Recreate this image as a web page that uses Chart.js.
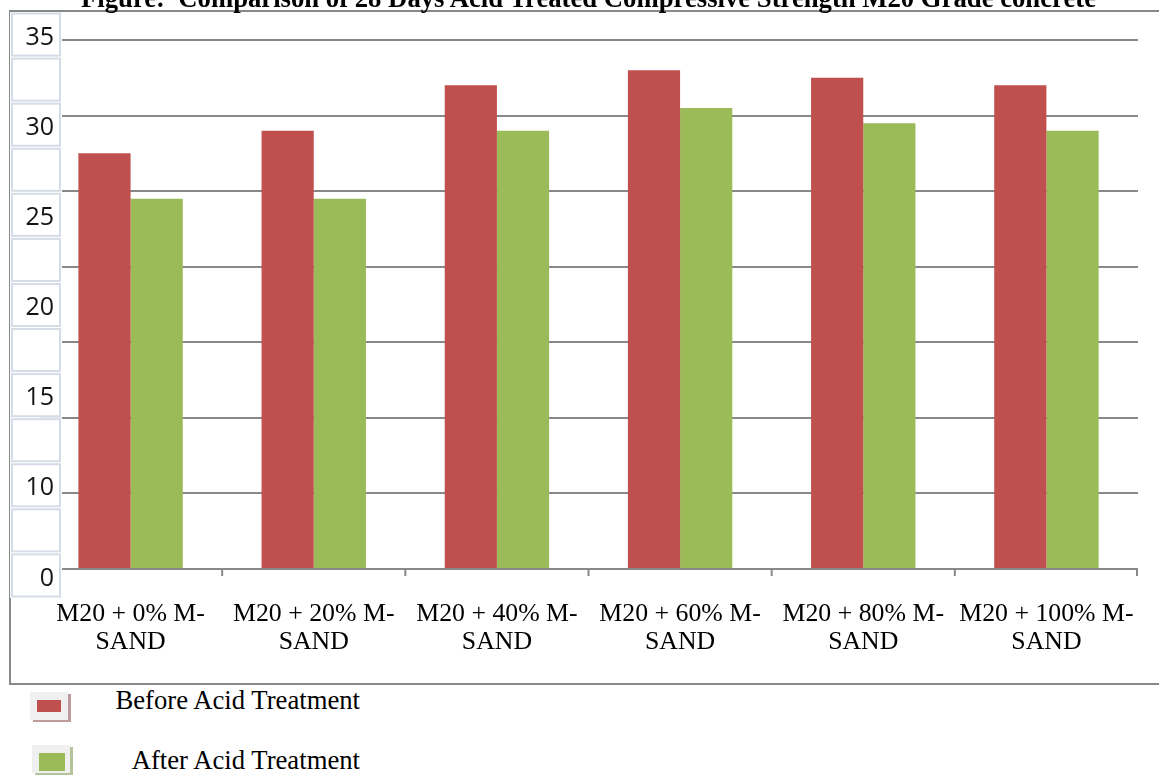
<!DOCTYPE html>
<html>
<head>
<meta charset="utf-8">
<script src="https://cdn.jsdelivr.net/npm/chart.js@4.4.1/dist/chart.umd.min.js"></script>
<style>
    body { margin: 0; width: 1159px; height: 776px; background: #fff; overflow: hidden; position: relative; }
    #frame { position: absolute; left: 9px; top: 10px; width: 1200px; height: 671px; border: 2px solid #888; }
    #wrap { position: absolute; left: 0; top: 0; width: 1159px; height: 683px; }
    #title { position: absolute; left: 9px; top: -15.5px; width: 1159px; text-align: center;
        font: bold 26.7px "Liberation Serif", "Times New Roman", serif; line-height: 27px; color: #000; white-space: nowrap; }
    .key { position: absolute; font: 26.7px "Liberation Serif", "Times New Roman", serif; line-height: 30px; color: #000; }
    .key .box { position: absolute; width: 38px; height: 28px; background: #f0f0f0; }
    .key .swatch { position: absolute; }
    .key .txt { position: absolute; white-space: nowrap; text-align: right; width: 300px; }
</style>
</head>
<body>
<div id="frame"></div>
<div id="wrap"><canvas id="myChart"></canvas></div>
<div id="title">Figure:&nbsp; Comparison of 28 Days Acid Treated Compressive Strength M20 Grade concrete</div>
<div id="legend"></div>
<script>
const categories = [
    ['M20 + 0% M-', 'SAND'],
    ['M20 + 20% M-', 'SAND'],
    ['M20 + 40% M-', 'SAND'],
    ['M20 + 60% M-', 'SAND'],
    ['M20 + 80% M-', 'SAND'],
    ['M20 + 100% M-', 'SAND'],
];

const beforeAcid = [27.5, 29, 32, 33, 32.5, 32];
const afterAcid = [24.5, 24.5, 29, 30.5, 29.5, 29];

const yTickLabels = ['35', '30', '25', '20', '15', '10', '0'];
const gridValues = [0, 5, 10, 15, 20, 25, 30, 35];

// label column: one labelled cell, then an empty one
const labelCells = yTickLabels.flatMap((t, i) => i < yTickLabels.length - 1 ? [t, ''] : [t]);

const RED = '#C0504D';
const GREEN = '#9BBB59';

const cellColumn = {
    id: 'cellColumn',
    afterLayout(chart) {
        // the label column sits over the left edge of the plot
        const s = chart.scales.labels;
        s.left = 10;
        s.right = 62;
    },
    afterDatasetsDraw(chart) {
        const ctx = chart.ctx;
        const y2 = chart.scales.labels;
        const x = chart.scales.x;
        const y = chart.scales.y;
        const step = y2.getPixelForValue(1) - y2.getPixelForValue(0);
        ctx.save();
        // tick marks under the base line at the category boundaries
        ctx.strokeStyle = '#888';
        ctx.lineWidth = 2;
        const base = y.getPixelForValue(0);
        for (let i = 0; i < categories.length; i++) {
            const edge = i < categories.length - 1
                ? (x.getPixelForValue(i) + x.getPixelForValue(i + 1)) / 2
                : x.right - 1;
            ctx.beginPath();
            ctx.moveTo(edge, base);
            ctx.lineTo(edge, base + 7);
            ctx.stroke();
        }
        // boxed cells behind the value labels
        for (let i = 0; i < labelCells.length; i++) {
            const c = y2.getPixelForValue(i);
            const top = c - step / 2;
            ctx.fillStyle = '#fff';
            ctx.fillRect(10, top, 52, step);
            ctx.strokeStyle = '#d5dce7';
            ctx.lineWidth = 2;
            ctx.strokeRect(12, top + 1.5, 48, step - 3);
        }
        ctx.restore();
    }
};

const chart = new Chart(document.getElementById('myChart'), {
    type: 'bar',
    data: {
        labels: categories,
        datasets: [
            { label: 'Before Acid Treatment', data: beforeAcid, backgroundColor: RED },
            { label: 'After Acid Treatment', data: afterAcid, backgroundColor: GREEN },
        ]
    },
    options: {
        responsive: true,
        maintainAspectRatio: false,
        animation: false,
        categoryPercentage: 0.57,
        barPercentage: 1.0,
        layout: { padding: { left: 39, right: 21, top: 12, bottom: 0 } },
        plugins: {
            legend: { display: false },
            tooltip: { enabled: false },
            title: { display: false }
        },
        scales: {
            x: {
                grid: { display: false, drawTicks: false },
                border: { display: false },
                ticks: {
                    color: '#000',
                    padding: 2,
                    maxRotation: 0,
                    autoSkip: false,
                    font: { family: '"Liberation Serif", "Times New Roman", serif', size: 25.8, lineHeight: 1.1 }
                },
                afterFit: s => { s.height = 85; }
            },
            y: {
                min: -1.919,
                max: 36.853,
                grid: { color: '#888', lineWidth: 2, drawTicks: false },
                border: { display: false },
                ticks: { display: false },
                afterBuildTicks: s => { s.ticks = gridValues.map(v => ({ value: v })); },
                afterFit: s => { s.width = 0; }
            },
            labels: {
                type: 'category',
                position: 'left',
                labels: labelCells,
                offset: true,
                grid: { display: false, drawTicks: false },
                border: { display: false },
                ticks: {
                    z: 1,
                    padding: 8,
                    labelOffset: 3,
                    autoSkip: false,
                    color: '#141414',
                    font: { family: '"Open Sans", "Liberation Sans", sans-serif', size: 25 }
                },
                afterFit: s => {
                    s.width = 0;
                    s.paddingTop = 0;
                    s.paddingBottom = 0;
                }
            }
        }
    },
    plugins: [cellColumn]
});

// legend keys below the frame, built from the datasets
const keySpots = [
    { top: 692, boxLeft: 30, textRight: 360, textTop: 685 },
    { top: 745, boxLeft: 32, textRight: 360, textTop: 745 },
];
const legend = document.getElementById('legend');
chart.data.datasets.forEach((ds, i) => {
    const s = keySpots[i];
    const key = document.createElement('div');
    key.className = 'key';
    key.style.left = '0px';
    key.style.top = '0px';
    const box = document.createElement('div');
    box.className = 'box';
    box.style.left = s.boxLeft + 'px';
    box.style.top = s.top + 'px';
    box.style.boxShadow = '3px 2px 0 ' + (i === 0 ? '#bf9a9a' : '#b3c49a');
    const sw = document.createElement('div');
    sw.className = 'swatch';
    sw.style.left = (s.boxLeft + 7) + 'px';
    sw.style.top = (s.top + 8) + 'px';
    sw.style.width = (i === 0 ? 24 : 26) + 'px';
    sw.style.height = (i === 0 ? 12 : 18) + 'px';
    sw.style.background = ds.backgroundColor;
    const txt = document.createElement('div');
    txt.className = 'txt';
    txt.style.left = (s.textRight - 300) + 'px';
    txt.style.top = s.textTop + 'px';
    txt.textContent = ds.label;
    key.append(box, sw, txt);
    legend.appendChild(key);
});
</script>
</body>
</html>
